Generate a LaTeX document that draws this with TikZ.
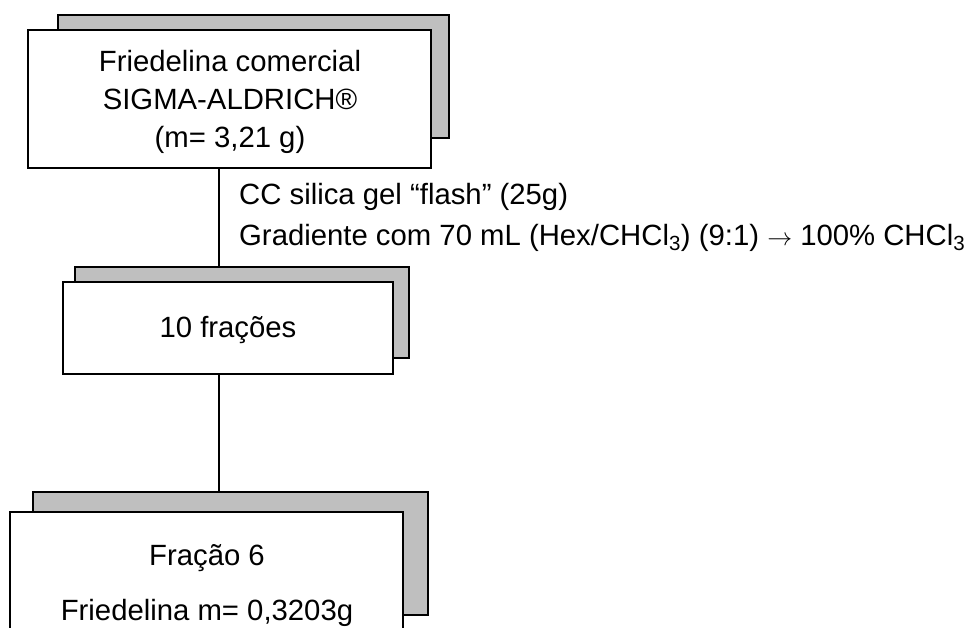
\documentclass[tikz,border=0pt]{standalone}
\usepackage{fontspec}
\setmainfont{Liberation Sans}
\begin{document}
\begin{tikzpicture}[x=1pt,y=-1pt,
  frontbox/.style={draw=black, fill=white, line width=1.5pt, inner sep=0pt, outer sep=0pt},
  backbox/.style={draw=black, fill=black!25, line width=1.5pt, inner sep=0pt, outer sep=0pt},
  txt/.style={anchor=base, inner sep=0pt, font=\fontsize{29.3}{35}\selectfont},
  ltxt/.style={anchor=base west, inner sep=0pt, font=\fontsize{29.3}{35}\selectfont},
  link/.style={line width=1.5pt}]
\useasboundingbox (0,0) rectangle (973,627);
% column of connectors
\coordinate (col) at (219,0);
% Box 1
\node[backbox, minimum width=391pt, minimum height=123pt] (b1s) at (253.5,76.5) {};
\node[frontbox, minimum width=403pt, minimum height=138pt] (b1) at (229.5,99) {};
\node[txt] (t1a) at (230,71) {Friedelina comercial};
\node[txt] (t1b) at (230,109) {SIGMA-ALDRICH®};
\node[txt] (t1c) at (230,147) {(m= 3,21 g)};
% Box 2
\node[backbox, minimum width=334pt, minimum height=91pt] (b2s) at (242,312.5) {};
\node[frontbox, minimum width=330pt, minimum height=92pt] (b2) at (228,328) {};
\node[txt] (t2) at (228,337) {10 frações};
% Box 3
\node[backbox, minimum width=395pt, minimum height=123pt] (b3s) at (230.5,553.5) {};
\node[frontbox, minimum width=393pt, minimum height=128pt] (b3) at (206.5,576) {};
\node[txt] (t3a) at (207,565) {Fração 6};
\node[txt] (t3b) at (207,620) {Friedelina m= 0,3203g};
% Connectors
\draw[link] (b1.south -| col) -- (b2s.north -| col);
\draw[link] (b2.south -| col) -- (b3s.north -| col);
% Label
\node[ltxt] (l1) at (239,204) {CC silica gel “flash” (25g)};
\node[ltxt] (l2) at (239,245) {Gradiente com 70 mL (Hex/CHCl\textsubscript{3}) (9:1) $\rightarrow$ 100\% CHCl\textsubscript{3}};
\end{tikzpicture}
\end{document}
